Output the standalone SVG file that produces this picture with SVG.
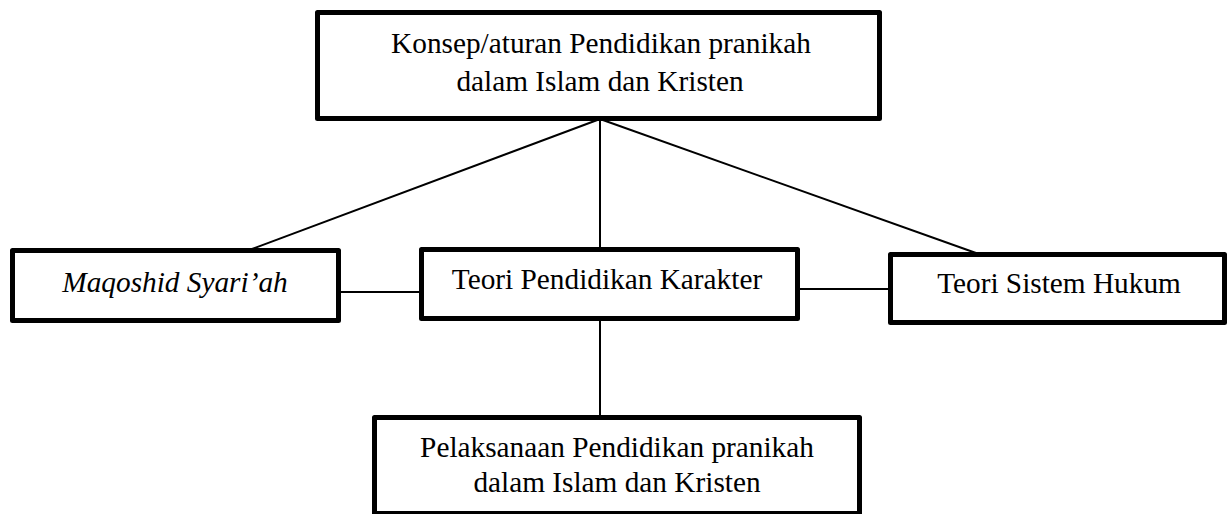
<svg xmlns="http://www.w3.org/2000/svg" width="1228" height="514" viewBox="0 0 1228 514">
<style>
.box{fill:#fff;stroke:#000;stroke-width:5;stroke-linejoin:round}
text{font-family:'Liberation Serif','Times New Roman',Tinos,'DejaVu Serif',serif;font-size:29.3px;fill:#000;text-anchor:middle}
.it{font-style:italic}
.con line{stroke:#000;stroke-width:2}
</style>
<rect width="1228" height="514" fill="#fff"/>
<g id="connectors" class="con">
<line x1="600" y1="119" x2="252" y2="249"/>
<line x1="600" y1="119" x2="600" y2="248"/>
<line x1="600" y1="119" x2="976" y2="253"/>
<line x1="340" y1="292" x2="420" y2="292"/>
<line x1="799" y1="289" x2="889" y2="289"/>
<line x1="600" y1="320" x2="600" y2="416"/>
</g>
<g id="n-konsep">
<rect class="box" x="317.5" y="12.5" width="562" height="106"/>
<text x="601" y="53">Konsep/aturan Pendidikan pranikah</text>
<text x="600" y="91">dalam Islam dan Kristen</text>
</g>
<g id="n-maqoshid">
<rect class="box" x="12.5" y="250.5" width="326" height="70"/>
<text class="it" x="175" y="292">Maqoshid Syari’ah</text>
</g>
<g id="n-karakter">
<rect class="box" x="421.5" y="249.5" width="376" height="69"/>
<text x="607" y="289">Teori Pendidikan Karakter</text>
</g>
<g id="n-hukum">
<rect class="box" x="890.5" y="254.5" width="334" height="68"/>
<text x="1059" y="293">Teori Sistem Hukum</text>
</g>
<g id="n-pelaksanaan">
<rect class="box" x="374.5" y="417.5" width="485" height="96"/>
<text x="617" y="457">Pelaksanaan Pendidikan pranikah</text>
<text x="617" y="492">dalam Islam dan Kristen</text>
</g>
</svg>
